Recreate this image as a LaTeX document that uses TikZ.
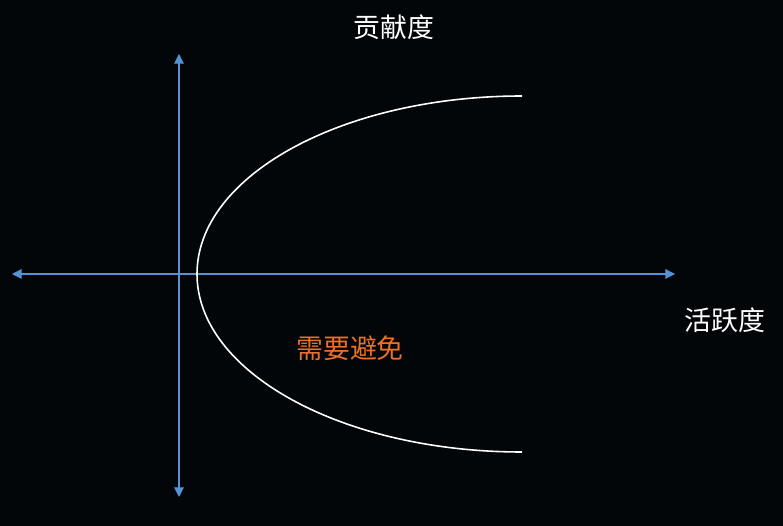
\documentclass[tikz,border=0pt]{standalone}
\usepackage{fontspec}
\usepackage{xcolor}
\usepackage{tikz}
\usetikzlibrary{arrows.meta}
\newfontfamily\cjk{Noto Sans CJK SC}
\definecolor{bg}{RGB}{3,6,9}
\definecolor{as}{RGB}{86,146,212}
\definecolor{vm}{RGB}{232,112,40}

\begin{document}
\begin{tikzpicture}[x=0.02cm, y=-0.02cm, font=\cjk\fontsize{15.3pt}{18pt}\selectfont,
                as/.style={draw=as, line width=0.6pt, {Triangle[length=5.5pt, width=5.5pt]}-{Triangle[length=5.5pt, width=5.5pt]}},
                lbl/.style={inner sep=0pt, text=white}]

            % achtergrond
            \fill[bg] (0, 0) rectangle (783, 526);
            \useasboundingbox (0, 0) rectangle (783, 526);

            % assen
            \coordinate (yTop) at (179, 54);
            \coordinate (yBot) at (179, 497);
            \coordinate (xLeft) at (12, 274);
            \coordinate (xRight) at (675, 274);
            \draw[as] (yBot) -- (yTop);
            \draw[as] (xRight) -- (xLeft);

            % halve ellips
            \draw[white, line width=0.9pt] (522, 96) arc[start angle=90, end angle=270, x radius=325, y radius=-178];

            % teksten
            \node[lbl] (bijdrage) at (394, 27) {贡献度};
            \node[lbl] (activiteit) at (725, 320) {活跃度};
            \node[lbl, text=vm] (vermijden) at (350, 348) {需要避免};

        \end{tikzpicture}
\end{document}
